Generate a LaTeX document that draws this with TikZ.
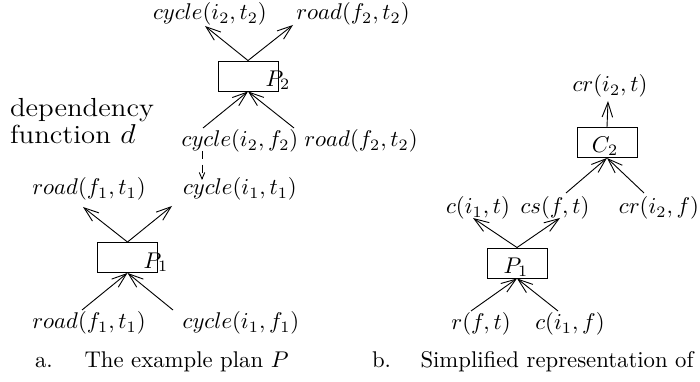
\documentclass[tikz,border=0pt]{standalone}
\usepackage{graphicx}
\usetikzlibrary{arrows.meta}
\tikzset{
  arr/.style={-{Straight Barb[length=6.5pt,width=4.6pt]}},
  deparr/.style={dash pattern=on 3.5pt off 2.5pt,-{Straight Barb[length=2.8pt,width=2.4pt]}},
  opbox/.style={draw,minimum width=26.4pt,minimum height=13.2pt,inner sep=0pt},
}
\newcommand{\widetext}[1]{\scalebox{1.1}[1]{#1}}
\begin{document}
\begin{tikzpicture}[x=0.44pt,y=-0.44pt]
    \clip (0,0) rectangle (700,382);
    % a. the example plan P
    \node[opbox] (p2) at (248,76) {};
    \node (p2lab) at (278,80) {$P_2$};
    \node (cit2) at (210,14) {$cycle(i_2,t_2)$};
    \node (rft2) at (353,14) {$road(f_2,t_2)$};
    \coordinate (o21) at (205,26);
    \coordinate (o22) at (293,25);
    \draw[arr] (p2.north) -- (o21);
    \draw[arr] (p2.north) -- (o22);
    \node (cif2) at (240,141) {$cycle(i_2,f_2)$};
    \node (rft2b) at (361,141) {$road(f_2,t_2)$};
    \coordinate (i21) at (203,128);
    \coordinate (i22) at (294,128);
    \draw[arr] (i21) -- (p2.south);
    \draw[arr] (i22) -- (p2.south);
    \node[align=left,anchor=west,font=\fontsize{11.5}{10}\selectfont] (dep) at (2,121) {\widetext{dependency}\\\widetext{function $d$}};
    \coordinate (d1) at (202,151);
    \coordinate (d2) at (202,180);
    \draw[deparr] (d1) -- (d2);
    \node[opbox] (p1) at (127.5,257.5) {};
    \node (p1lab) at (156,262) {$P_1$};
    \node (rft1) at (89,189) {$road(f_1,t_1)$};
    \node (cit1) at (240,189) {$cycle(i_1,t_1)$};
    \coordinate (o11) at (83,207);
    \coordinate (o12) at (172,206);
    \draw[arr] (p1.north) -- (o11);
    \draw[arr] (p1.north) -- (o12);
    \node (rft1b) at (89,323) {$road(f_1,t_1)$};
    \node (cif1) at (241,323) {$cycle(i_1,f_1)$};
    \coordinate (i11) at (82,310);
    \coordinate (i12) at (173,310);
    \draw[arr] (i11) -- (p1.south);
    \draw[arr] (i12) -- (p1.south);
    \node[anchor=west] (capa) at (27,362) {a.\hspace{14pt}The example plan $P$};
    % b. simplified representation
    \node[opbox] (c2) at (607,142.5) {};
    \node (c2lab) at (605,146) {$C_2$};
    \node (crt) at (610,86) {$cr(i_2,t)$};
    \coordinate (oc) at (608,101);
    \draw[arr] (c2.north) -- (oc);
    \node (cit) at (478,208) {$c(i_1,t)$};
    \node (csft) at (555,208) {$cs(f,t)$};
    \node (crf) at (659,208) {$cr(i_2,f)$};
    \coordinate (ic2) at (644,193);
    \node[opbox] (sp1) at (517,263) {};
    \node (sp1lab) at (516,267) {$P_1$};
    \coordinate (os1) at (473,218);
    \coordinate (os2) at (560,218);
    \draw[arr] (sp1.north) -- (os1);
    \draw[arr] (sp1.north) -- (os2);
    \coordinate (ic1) at (566,193);
    \draw[arr] (ic1) -- (c2.south);
    \draw[arr] (ic2) -- (c2.south);
    \node (rft) at (481,324) {$r(f,t)$};
    \node (cif) at (570,324) {$c(i_1,f)$};
    \coordinate (is1) at (471,311);
    \coordinate (is2) at (558,311);
    \draw[arr] (is1) -- (sp1.south);
    \draw[arr] (is2) -- (sp1.south);
    \node[anchor=west] (capb) at (364,362) {b.\hspace{13pt}Simplified representation of};
\end{tikzpicture}
\end{document}
